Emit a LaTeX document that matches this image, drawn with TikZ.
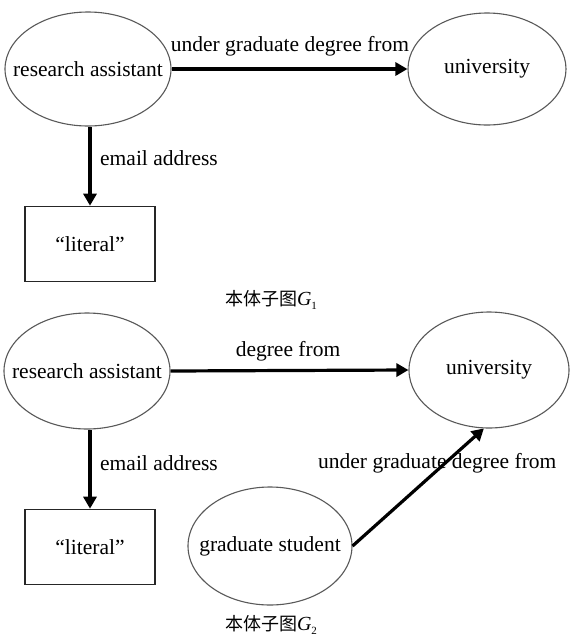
\documentclass[tikz,border=0pt]{standalone}
\usepackage{fontspec}
\setmainfont{Liberation Serif}
\newfontfamily\cjkfont{Noto Sans CJK SC}
\usetikzlibrary{shapes.geometric,arrows.meta}

\begin{document}
\begin{tikzpicture}[x=1pt,y=-1pt,
  every node/.style={font=\fontsize{21.5}{25}\selectfont},
  concept/.style={ellipse,draw=black!65,line width=1.1pt,inner sep=0pt},
  valuebox/.style={rectangle,draw=black!85,line width=1.6pt,minimum width=130pt,minimum height=75pt},
  relation/.style={line width=3.2pt,-{Triangle[length=12pt,width=13pt]}},
  edgelabel/.style={inner sep=0pt},
  caption/.style={inner sep=0pt,font=\fontsize{20}{24}\selectfont}]

% page frame
\fill[white] (0,0) rectangle (568,641);

% ---- sub-ontology G1 ----
\node[concept,minimum width=166pt,minimum height=114pt] (ra1) at (88,69) {\makebox[0pt]{research assistant}};
\node[concept,minimum width=158pt,minimum height=112pt] (uni1) at (487,69) {\makebox[0pt]{university}};
\node[valuebox] (lit1) at (90,244) {``literal''};

\draw[relation] (ra1.east) -- (uni1.west);
\draw[relation] (ra1.south -| lit1.north) -- (lit1.north);

\node[edgelabel] (l1a) at (290,46) {under graduate degree from};
\node[edgelabel,anchor=west] (l1b) at (100,158) {email address};

\node[caption] (cap1) at (271,300) {{\cjkfont\fontsize{18}{22}\selectfont 本体子图}\textit{G}\raisebox{-0.5ex}{\fontsize{11}{12}\selectfont 1}};

% ---- sub-ontology G2 ----
\node[concept,minimum width=166pt,minimum height=116pt] (ra2) at (87,371) {\makebox[0pt]{research assistant}};
\node[concept,minimum width=160pt,minimum height=116pt] (uni2) at (489,370) {\makebox[0pt]{university}};
\node[valuebox] (lit2) at (90,547) {``literal''};
\node[concept,minimum width=164pt,minimum height=118pt] (gs) at (270,546) {\makebox[0pt]{graduate student}};

\draw[relation] (ra2.east) -- (uni2.west);
\draw[relation] (ra2.south -| lit2.north) -- (lit2.north);
\draw[relation] (gs.east) -- (uni2.265);

\node[edgelabel] (l2a) at (288,351) {degree from};
\node[edgelabel,anchor=west] (l2b) at (100,463) {email address};
\node[edgelabel,anchor=west] (l2c) at (318,463) {under graduate degree from};

\node[caption] (cap2) at (271,625) {{\cjkfont\fontsize{18}{22}\selectfont 本体子图}\textit{G}\raisebox{-0.5ex}{\fontsize{11}{12}\selectfont 2}};

\end{tikzpicture}
\end{document}
